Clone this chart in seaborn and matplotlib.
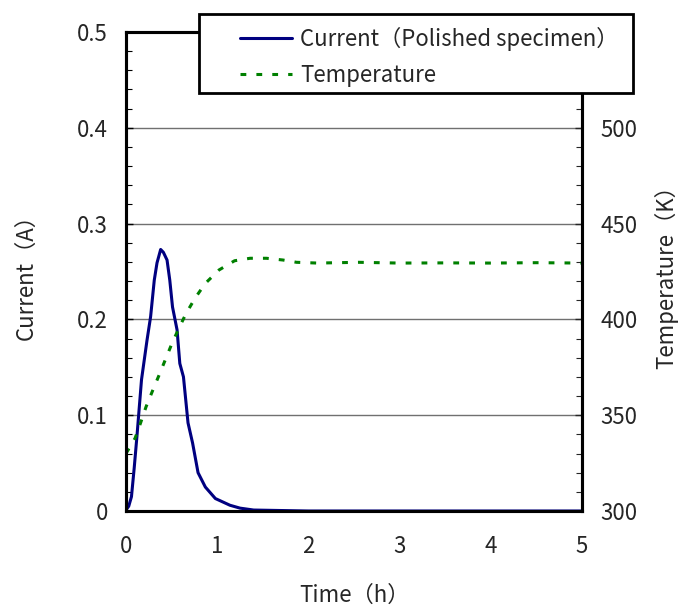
import numpy as np
import pandas as pd
import matplotlib
matplotlib.use("Agg")
import matplotlib.pyplot as plt
from matplotlib.patches import Rectangle
from matplotlib.ticker import MultipleLocator
import seaborn as sns

# current (A) vs time (h)
cur_t = [0.0, 0.03, 0.06, 0.09, 0.12, 0.17, 0.23, 0.27, 0.31, 0.34, 0.38, 0.41, 0.45, 0.48,
         0.51, 0.56, 0.59, 0.63, 0.68, 0.73, 0.79, 0.87, 0.98, 1.14, 1.25, 1.4, 2.0, 3.0,
         4.0, 5.0]
cur_a = [0.001, 0.005, 0.015, 0.045, 0.078, 0.137, 0.178, 0.203, 0.241, 0.259, 0.273, 0.270,
         0.262, 0.241, 0.213, 0.189, 0.154, 0.140, 0.092, 0.071, 0.040, 0.025, 0.013, 0.006,
         0.003, 0.001, 0.0, 0.0, 0.0, 0.0]

# temperature (K) vs time (h)
tem_t = [0.0, 0.1, 0.16, 0.22, 0.29, 0.36, 0.43, 0.50, 0.58, 0.66, 0.76, 0.87, 1.02, 1.19,
         1.36, 1.54, 1.72, 1.87, 2.1, 2.55, 3.0, 3.5, 4.0, 4.5, 5.0]
tem_k = [330, 338, 346, 354.4, 362.6, 370.6, 378.8, 387, 395.4, 403.2, 411.3, 418.8, 425.8,
         430.6, 431.9, 431.9, 431.0, 429.8, 429.4, 429.8, 429.4, 429.5, 429.4, 429.6, 429.4]

cur_df = pd.DataFrame({"Time": cur_t, "Current": cur_a})
tem_df = pd.DataFrame({"Time": tem_t, "Temperature": tem_k})

sns.set_style("white")
plt.rcParams["font.family"] = ["Noto Sans CJK JP", "DejaVu Sans"]
fs = 16

fig = plt.figure(figsize=(6.78, 6.1), dpi=100)
ax = fig.add_axes([126 / 678, 1 - 511 / 610, 456 / 678, 479 / 610])
ax2 = ax.twinx()

sns.lineplot(data=cur_df, x="Time", y="Current", ax=ax, color="#000080", lw=2.2,
             label="Current（Polished specimen）", legend=False)
sns.lineplot(data=tem_df, x="Time", y="Temperature", ax=ax2, color="#008000", lw=2.2,
             label="Temperature", legend=False)
ax2.lines[0].set_dashes([1.9, 3.3])

ax.set_xlim(0, 5)
ax.set_ylim(0, 0.5)
ax2.set_ylim(300, 550)
ax.set_yticks([0, 0.1, 0.2, 0.3, 0.4, 0.5])
ax.set_yticklabels(["0", "0.1", "0.2", "0.3", "0.4", "0.5"])
ax2.set_yticks([300, 350, 400, 450, 500])
ax.xaxis.set_minor_locator(MultipleLocator(0.2))
ax.yaxis.set_minor_locator(MultipleLocator(0.02))
ax2.yaxis.set_minor_locator(MultipleLocator(10))

ax.grid(axis="y", color="#707070", lw=1.0)
ax.set_axisbelow(True)

for a in (ax, ax2):
    for s in a.spines.values():
        s.set_color("black")
        s.set_linewidth(2.2)
ax.tick_params(axis="both", which="both", direction="in", labelsize=fs, color="black")
ax.tick_params(axis="x", which="major", length=5, width=1, pad=17)
ax.tick_params(axis="x", which="minor", length=4, width=0.8)
ax.tick_params(axis="y", which="major", length=5, width=1, pad=13)
ax.tick_params(axis="y", which="minor", length=4, width=0.8)
ax2.tick_params(axis="y", which="both", direction="in", labelsize=fs)
ax2.tick_params(axis="y", which="major", length=5, width=1, pad=13)
ax2.tick_params(axis="y", which="minor", length=4, width=0.8)

ax.set_xlabel("Time（h）", fontsize=fs, labelpad=19)
ax.set_ylabel("Current（A）", fontsize=fs, labelpad=28)
ax2.set_ylabel("Temperature（K）", fontsize=fs, labelpad=12)

# legend box sits over the top right corner
box = Rectangle((199 / 678, 1 - 93 / 610), 434 / 678, 79 / 610, transform=fig.transFigure,
                facecolor="white", edgecolor="black", lw=2, zorder=3)
fig.patches.append(box)
h1, l1 = ax.get_legend_handles_labels()
h2, l2 = ax2.get_legend_handles_labels()
fig.legend(h1 + h2, l1 + l2, loc="upper left", bbox_to_anchor=(222 / 678, 1 - 9 / 610),
           frameon=False, fontsize=fs, handlelength=2.35, handletextpad=0.35,
           labelspacing=0.6, borderpad=0.3)

fig.savefig("out.png", dpi=100)
